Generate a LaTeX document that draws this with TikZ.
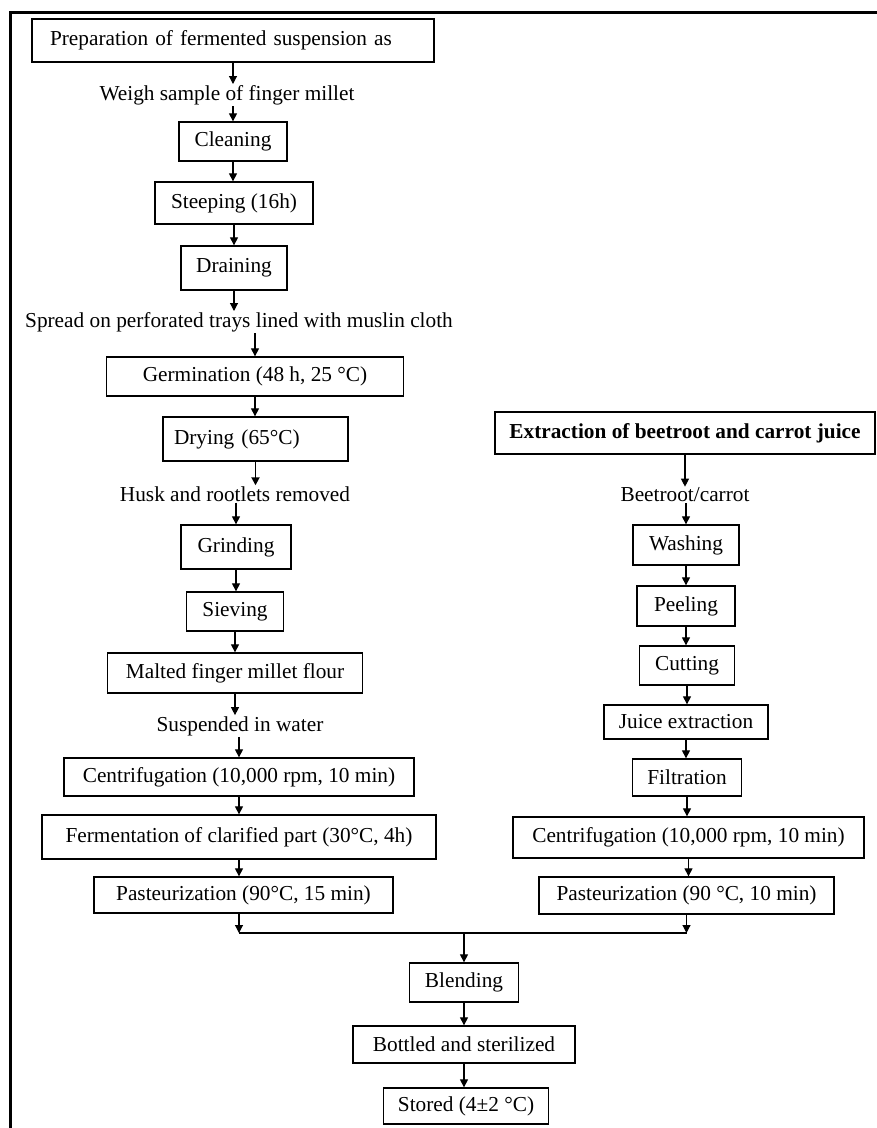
\documentclass[tikz,border=0pt]{standalone}
\usepackage{fontspec}
\setmainfont{Liberation Serif}
\usetikzlibrary{arrows.meta}
\tikzstyle{arrow} = [line width=1.1pt,-{Triangle[width=8pt,length=8pt]}]
\tikzstyle{stepbox} = [draw, line width=1.3pt, inner sep=0pt]
\tikzstyle{plaintext} = [inner sep=1pt]

\begin{document}
\begin{tikzpicture}[x=1pt, y=-1pt, font=\fontsize{21.3}{25}\selectfont]
  \useasboundingbox (0,0) rectangle (877,1128);

  % Outer frame (runs past the right and bottom edge)
  \draw[line width=3pt] (10,12) rectangle (900,1150);

  % Fermented finger millet suspension
  \node[stepbox, minimum width=402pt, minimum height=43pt, text width=366pt, align=left] (prep) at (233,40.5) {Preparation of fermented suspension as};
  \node[plaintext] (weigh) at (227,95) {Weigh sample of finger millet};
  \node[stepbox, minimum width=108pt, minimum height=39pt] (clean) at (233,141.5) {Cleaning};
  \node[stepbox, minimum width=158pt, minimum height=42pt] (steep) at (234,203) {Steeping (16h)};
  \node[stepbox, minimum width=106pt, minimum height=44pt] (drain) at (234,268) {Draining};
  \node[plaintext] (spread) at (239,322) {Spread on perforated trays lined with muslin cloth};
  \node[stepbox, minimum width=297pt, minimum height=39pt] (germ) at (255,376.5) {Germination (48 h, 25 °C)};
  \node[stepbox, minimum width=185pt, minimum height=44pt, text width=163pt, align=left] (dry) at (255.5,439) {Drying (65°C)};
  \node[plaintext] (husk) at (235,494) {Husk and rootlets removed};
  \node[stepbox, minimum width=110pt, minimum height=44pt] (grind) at (236,547) {Grinding};
  \node[stepbox, minimum width=97pt, minimum height=39pt] (sieve) at (235,611.5) {Sieving};
  \node[stepbox, minimum width=255pt, minimum height=40pt] (flour) at (235,673) {Malted finger millet flour};
  \node[plaintext] (water) at (240,726) {Suspended in water};
  \node[stepbox, minimum width=350pt, minimum height=38pt] (centL) at (239,777) {Centrifugation (10,000 rpm, 10 min)};
  \node[stepbox, minimum width=394pt, minimum height=44pt] (ferm) at (239,837) {Fermentation of clarified part (30°C, 4h)};
  \node[stepbox, minimum width=299pt, minimum height=36pt] (pastL) at (243.5,895) {Pasteurization (90°C, 15 min)};

  % Beetroot and carrot juice
  \node[stepbox, minimum width=380pt, minimum height=42pt] (extract) at (685,433) {\bfseries Extraction of beetroot and carrot juice};
  \node[plaintext] (beet) at (685,495) {Beetroot/carrot};
  \node[stepbox, minimum width=106pt, minimum height=40pt] (wash) at (686,545) {Washing};
  \node[stepbox, minimum width=98pt, minimum height=40pt] (peel) at (686,606) {Peeling};
  \node[stepbox, minimum width=95pt, minimum height=39pt] (cut) at (687,665.5) {Cutting};
  \node[stepbox, minimum width=164pt, minimum height=34pt] (juice) at (686,722) {Juice extraction};
  \node[stepbox, minimum width=109pt, minimum height=37pt] (filter) at (687,777.5) {Filtration};
  \node[stepbox, minimum width=351pt, minimum height=41pt] (centR) at (688.5,837.5) {Centrifugation (10,000 rpm, 10 min)};
  \node[stepbox, minimum width=295pt, minimum height=37pt] (pastR) at (686.5,895.5) {Pasteurization (90 °C, 10 min)};

  % Common part
  \coordinate (mix) at (464,933);
  \node[stepbox, minimum width=109pt, minimum height=39pt] (blend) at (464,982.5) {Blending};
  \node[stepbox, minimum width=222pt, minimum height=37pt] (bottle) at (464,1044.5) {Bottled and sterilized};
  \node[stepbox, minimum width=165pt, minimum height=36pt] (store) at (466,1106) {Stored (4±2 °C)};

  % Left arrows
  \draw[arrow] (prep.south) -- (prep.south |- weigh.north);
  \draw[arrow] (clean.north |- weigh.south) -- (clean.north);
  \draw[arrow] (clean.south) -- (clean.south |- steep.north);
  \draw[arrow] (steep.south) -- (steep.south |- drain.north);
  \draw[arrow] (drain.south) -- (drain.south |- spread.north);
  \draw[arrow] (germ.north |- spread.south) -- (germ.north);
  \draw[arrow] (germ.south) -- (germ.south |- dry.north);
  \draw[arrow, line width=1.8pt] (dry.south) -- (dry.south |- husk.north);
  \draw[arrow] (grind.north |- husk.south) -- (grind.north);
  \draw[arrow] (grind.south) -- (grind.south |- sieve.north);
  \draw[arrow] (sieve.south) -- (sieve.south |- flour.north);
  \draw[arrow] (flour.south) -- (flour.south |- water.north);
  \draw[arrow] (centL.north |- water.south) -- (centL.north);
  \draw[arrow] (centL.south) -- (centL.south |- ferm.north);
  \draw[arrow] (ferm.south) -- (ferm.south |- pastL.north);

  % Right arrows
  \draw[arrow] (extract.south) -- (extract.south |- beet.north);
  \draw[arrow] (wash.north |- beet.south) -- (wash.north);
  \draw[arrow] (wash.south) -- (wash.south |- peel.north);
  \draw[arrow] (peel.south) -- (peel.south |- cut.north);
  \draw[arrow] (cut.south) -- (cut.south |- juice.north);
  \draw[arrow] (juice.south) -- (juice.south |- filter.north);
  \draw[arrow] (filter.south) -- (filter.south |- centR.north);
  \draw[arrow] (centR.south) -- (centR.south |- pastR.north);

  % Joining both branches
  \draw[arrow] (ferm.south |- pastL.south) -- (ferm.south |- mix);
  \draw[arrow] (pastR.south) -- (pastR.south |- mix);
  \draw[line width=1.1pt] (ferm.south |- mix) -- (pastR.south |- mix);
  \draw[arrow] (mix) -- (mix |- blend.north);
  \draw[arrow] (blend.south) -- (blend.south |- bottle.north);
  \draw[arrow] (bottle.south) -- (bottle.south |- store.north);
\end{tikzpicture}
\end{document}
